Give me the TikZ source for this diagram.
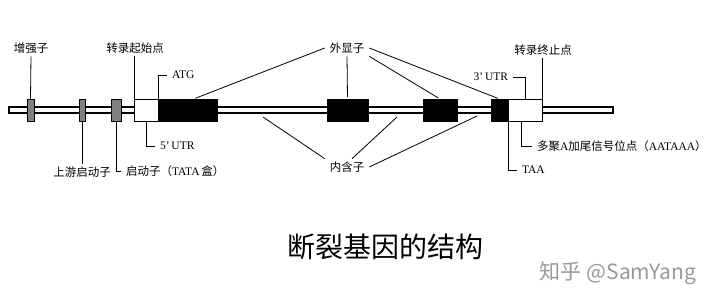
\documentclass[tikz,border=0pt]{standalone}
\usepackage{fontspec}
\setmainfont{Liberation Serif}
\newfontfamily\zhfont{Noto Sans CJK SC}
\usetikzlibrary{positioning}
\definecolor{RegGray}{RGB}{128,128,128}
\tikzset{
	dna/.style={draw=black, line width=1.1pt, fill=white},
	genebox/.style={draw=black, line width=0.9pt, minimum height=22pt, inner sep=0pt, outer sep=0pt},
	regbox/.style={genebox, fill=RegGray},
	utr/.style={genebox, fill=white},
	exon/.style={genebox, fill=black},
	leader/.style={black, line width=0.8pt},
	labeltext/.style={font=\fontsize{11.5}{13}\selectfont, inner xsep=5pt, inner ysep=3pt, outer sep=0pt},
}
\newcommand{\zh}[1]{{\zhfont #1}}

\begin{document}
\begin{tikzpicture}[x=1pt, y=-1pt]
	\useasboundingbox (0,0) rectangle (719,301);
	
	% DNA backbone
	\draw[dna] (9,107) rectangle (613,113);
	
	% regulatory elements
	\node[regbox, minimum width=7pt] (enh) at (30.5,110) {};
	\node[regbox, minimum width=6pt] (upp) at (82,110) {};
	\node[regbox, minimum width=10pt] (tata) at (116,110) {};
	
	% transcribed region
	\node[utr, minimum width=24pt] (utr5) at (146,110) {};
	\node[exon, minimum width=59pt, right=0pt of utr5] (exon1) {};
	\node[exon, minimum width=41pt] (exon2) at (347.5,110) {};
	\node[exon, minimum width=34pt] (exon3) at (440,110) {};
	\node[exon, minimum width=17pt] (exon4) at (499.5,110) {};
	\node[utr, minimum width=34pt, right=0pt of exon4] (utr3) {};
	
	% introns
	\coordinate (in1) at (263,117);
	\coordinate (in2) at (397,117);
	\coordinate (in3) at (477,116);
	
	% labels
	\node[labeltext] (enhlbl) at (31,48) {\zh{增强子}};
	\node[labeltext] (tsslbl) at (135,48) {\zh{转录起始点}};
	\node[labeltext, anchor=west] (atglbl) at (167,75) {ATG};
	\node[labeltext, anchor=west] (utr5lbl) at (155,146) {5’\,UTR};
	\node[labeltext] (upplbl) at (82,172) {\zh{上游启动子}};
	\node[labeltext, anchor=west] (tatalbl) at (121,171) {\zh{启动子（}TATA\,\zh{盒）}};
	\node[labeltext] (exlbl) at (347,48) {\zh{外显子}};
	\node[labeltext] (inlbl) at (347,167) {\zh{内含子}};
	\node[labeltext, anchor=east] (utr3lbl) at (513,77) {3’\,UTR};
	\node[labeltext] (ttslbl) at (543,50) {\zh{转录终止点}};
	\node[labeltext, anchor=west] (taalbl) at (517,170) {TAA};
	\node[labeltext, anchor=west] (polyalbl) at (532,146) {\zh{多聚}A\zh{加尾信号位点（}AATAAA\zh{）}};
	
	% leaders
	\draw[leader] (enh.north) -- (enhlbl.south);
	\draw[leader] (utr5.north west) -- (utr5.north west |- tsslbl.south);
	\draw[leader] (utr5.north east) |- (atglbl.west);
	\draw[leader] (utr5.south) |- (utr5lbl.west);
	\draw[leader] (upp.south) -- (upplbl.north);
	\draw[leader] (tata.south) |- (tatalbl.west);
	\draw[leader, shorten >=2pt] (exlbl.west) -- ([xshift=6pt]exon1.north);
	\draw[leader, shorten >=2pt] (exlbl.south) -- (exon2.north);
	\draw[leader, shorten >=2pt] (exlbl.south east) -- (exon3.north);
	\draw[leader, shorten >=2pt] (exlbl.east) -- (exon4.north);
	\draw[leader] (in1) -- (inlbl.north west);
	\draw[leader] (in2) -- ([xshift=5pt]inlbl.north);
	\draw[leader] (in3) -- (inlbl.east);
	\draw[leader] (utr3lbl.east) -| (utr3.north);
	\draw[leader] (utr3.north east) -- (utr3.north east |- ttslbl.south);
	\draw[leader] (exon4.south east) |- (taalbl.west);
	\draw[leader] ([xshift=-4pt]utr3.south) |- (polyalbl.west);
	
	% caption
	\node[font=\zhfont\fontsize{28}{30}\selectfont] (title) at (385,247) {断裂基因的结构};
	\node[font=\zhfont\fontsize{21}{23}\selectfont, text=black!40] (mark) at (618,273) {知乎 @SamYang};
\end{tikzpicture}
\end{document}
